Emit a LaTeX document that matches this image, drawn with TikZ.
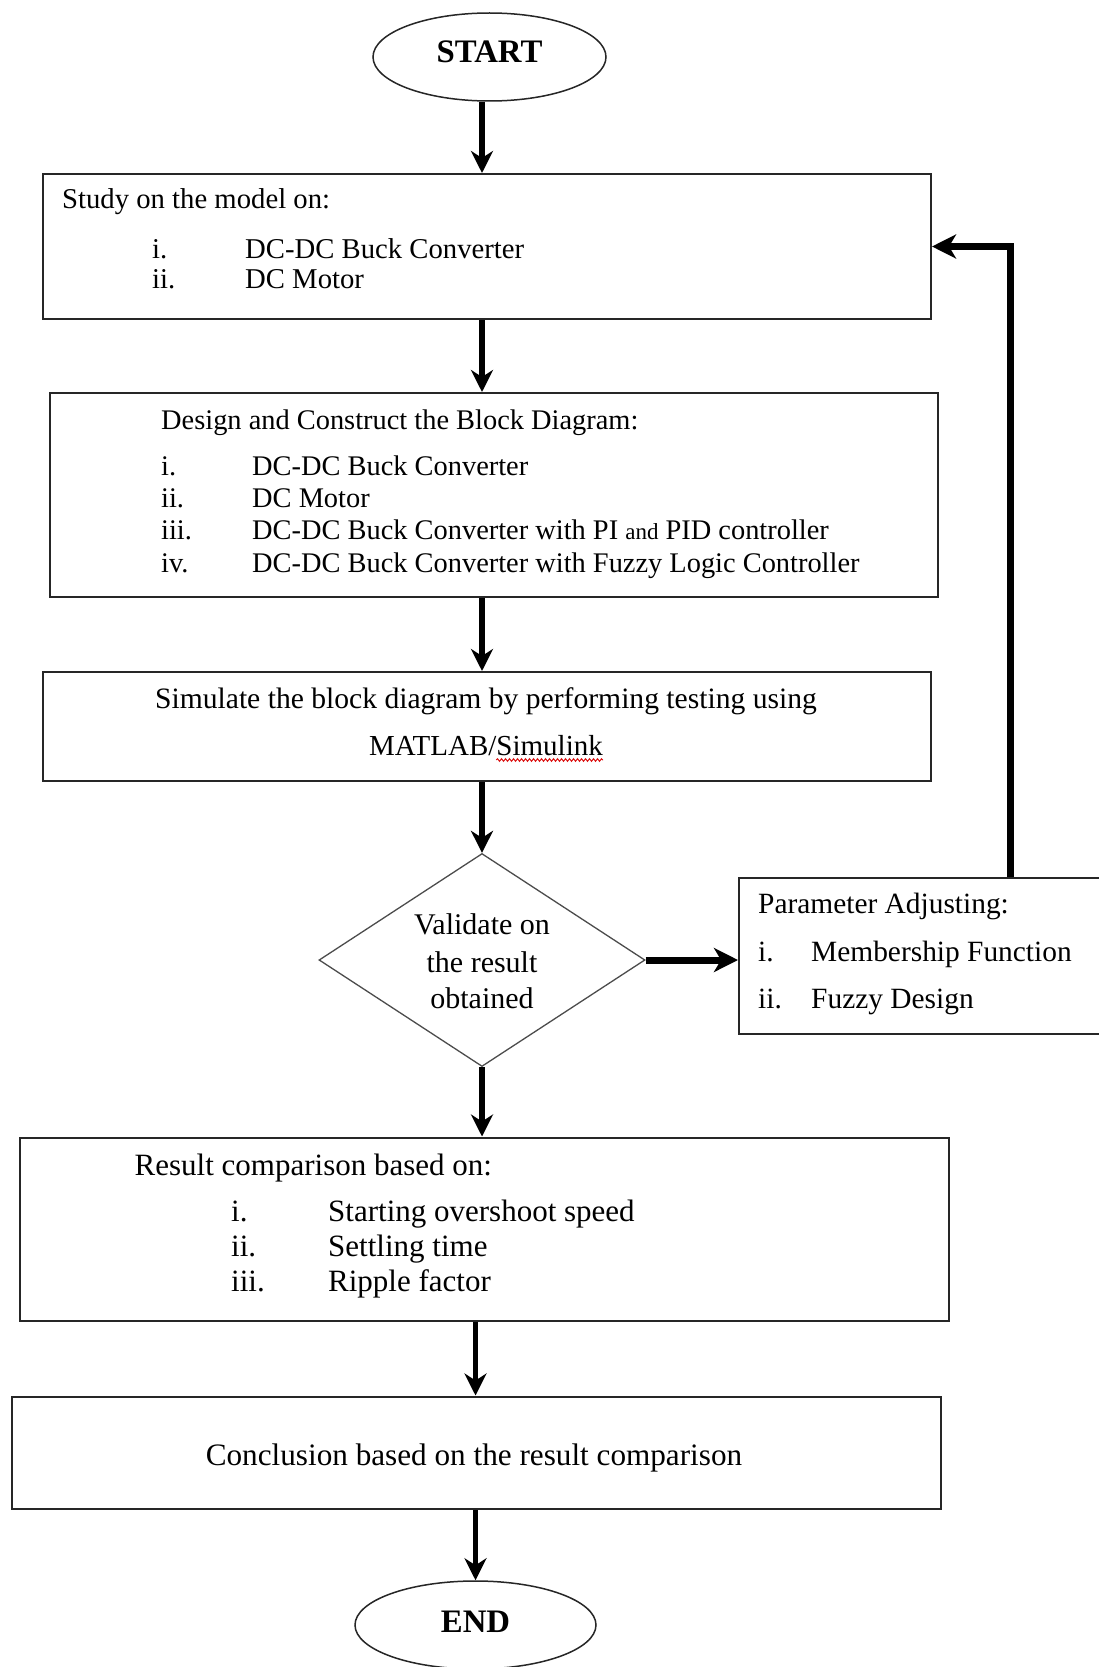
\documentclass[tikz,border=0pt]{standalone}
\usepackage{fontspec}
\setmainfont{Liberation Serif}
\usetikzlibrary{arrows.meta,shapes.geometric,decorations.pathmorphing}

\begin{document}
\begin{tikzpicture}[x=1pt,y=-1pt,
  box/.style={draw=black!85, line width=2pt, rectangle, inner sep=0pt},
  oval/.style={draw=black!85, line width=1.5pt, ellipse, inner sep=0pt},
  decision/.style={draw=black!70, line width=1.3pt, diamond, inner sep=0pt},
  fs/.style={font=\fontsize{#1}{#1}\selectfont},
  txt/.style={anchor=base west, inner sep=0pt},
  ctxt/.style={anchor=base, inner sep=0pt},
  bold/.style={anchor=base, inner sep=0pt, font=\fontsize{32.8}{36}\selectfont\bfseries},
  arr/.style={line width=5.5pt, -{Stealth[length=22pt,width=22pt,inset=7pt]}},
  thickarr/.style={line width=7pt, -{Stealth[length=24pt,width=24pt,inset=7pt]}}
]
\useasboundingbox (0,0) rectangle (1098,1667);
\fill[white] (0,0) rectangle (1098,1667);

% terminals
\node[oval, minimum width=233pt, minimum height=88pt] (start) at (489.5,57) {};
\node[bold] (starttxt) at (489.5,63) {START};
\node[oval, minimum width=241pt, minimum height=88pt] (stop) at (475.5,1625) {};
\node[bold] (stoptxt) at (475.5,1632) {END};

% process boxes
\node[box, minimum width=888pt, minimum height=145pt] (study) at (487,246.5) {};
\node[box, minimum width=888pt, minimum height=204pt] (design) at (494,495) {};
\node[box, minimum width=888pt, minimum height=109pt] (simulate) at (487,726.5) {};
\node[decision, minimum width=326pt, minimum height=213pt] (validate) at (482,960) {};
\node[box, minimum width=366pt, minimum height=156pt] (param) at (922,956) {};
\node[box, minimum width=929.4pt, minimum height=183pt] (result) at (484.3,1229) {};
\node[box, minimum width=928.5pt, minimum height=112.5pt] (concl) at (476.3,1452.75) {};

% study box text
\begin{scope}[fs=28.7]
\node[txt] (s0) at (62,208) {Study on the model on:};
\node[txt] (s1a) at (152,258) {i.};
\node[txt] (s1b) at (245,258) {DC-DC Buck Converter};
\node[txt] (s2a) at (152,288) {ii.};
\node[txt] (s2b) at (245,288) {DC Motor};
\end{scope}

% design box text
\begin{scope}[fs=28.4]
\node[txt] (d0) at (161,429) {Design and Construct the Block Diagram:};
\node[txt] (d1a) at (161,475) {i.};
\node[txt] (d1b) at (252,475) {DC-DC Buck Converter};
\node[txt] (d2a) at (161,507) {ii.};
\node[txt] (d2b) at (252,507) {DC Motor};
\node[txt] (d3a) at (161,539) {iii.};
\node[txt] (d3b) at (252,539) {DC-DC Buck Converter with PI {\fontsize{23}{27}\selectfont and} PID controller};
\node[txt] (d4a) at (161,572) {iv.};
\node[txt] (d4b) at (252,572) {DC-DC Buck Converter with Fuzzy Logic Controller};
\end{scope}

% simulate box text
\node[ctxt, fs=29.6] (m1) at (486,708) {Simulate the block diagram by performing testing using};
\node[ctxt, fs=29] (m2) at (486,755) {MATLAB/Simulink};
\node[anchor=base east, inner sep=0pt, fs=29] (m2w) at (m2.base east) {\phantom{Simulink}};
\draw[red!85!black, line width=0.9pt, decorate, decoration={snake, amplitude=1.3pt, segment length=4pt}]
  ([yshift=-5pt]m2w.base west) -- ([yshift=-5pt]m2w.base east);

% decision text
\begin{scope}[fs=30]
\node[ctxt] (v1) at (482,934) {Validate on};
\node[ctxt] (v2) at (482,972) {the result};
\node[ctxt] (v3) at (482,1008) {obtained};
\end{scope}

% parameter box text
\begin{scope}[fs=29.4]
\node[txt] (p0) at (758,913) {Parameter Adjusting:};
\node[txt] (p1a) at (758,961) {i.};
\node[txt] (p1b) at (811,961) {Membership Function};
\node[txt] (p2a) at (758,1008) {ii.};
\node[txt] (p2b) at (811,1008) {Fuzzy Design};
\end{scope}

% result box text
\begin{scope}[fs=31]
\node[txt] (r0) at (134.5,1175) {Result comparison based on:};
\node[txt] (r1a) at (231,1221) {i.};
\node[txt] (r1b) at (328,1221) {Starting overshoot speed};
\node[txt] (r2a) at (231,1256) {ii.};
\node[txt] (r2b) at (328,1256) {Settling time};
\node[txt] (r3a) at (231,1291) {iii.};
\node[txt] (r3b) at (328,1291) {Ripple factor};
\end{scope}

% conclusion text
\node[ctxt, fs=31.2] (c1) at (474,1465) {Conclusion based on the result comparison};

% connectors
\coordinate (loop) at (1010,0);
\draw[arr] (start.south -| validate.north) -- (study.north -| validate.north);
\draw[arr] (study.south -| validate.north) -- (design.north -| validate.north);
\draw[arr] (design.south -| validate.north) -- (simulate.north -| validate.north);
\draw[arr] (simulate.south -| validate.north) -- (validate.north);
\draw[arr] (validate.south) -- (result.north -| validate.south);
\draw[arr] (result.south -| stop.north) -- (concl.north -| stop.north);
\draw[arr] (concl.south -| stop.north) -- (stop.north);
\draw[thickarr] (validate.east) -- (param.west |- validate.east);
\draw[thickarr] (param.north -| loop) |- (study.east);
\end{tikzpicture}
\end{document}
